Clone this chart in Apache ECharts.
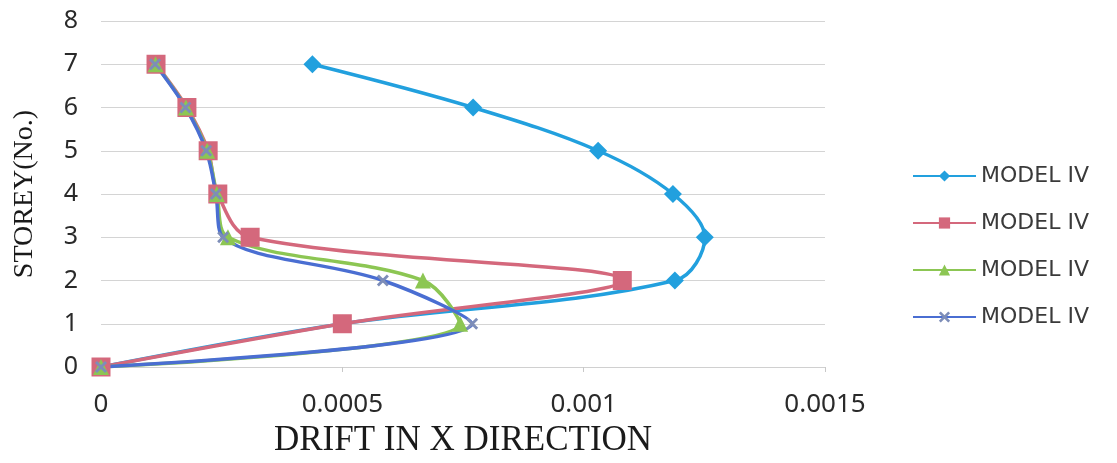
<!DOCTYPE html>
<html>
<head>
<meta charset="utf-8">
<script src="https://cdn.jsdelivr.net/npm/echarts@6/dist/echarts.min.js"></script>
<style>
  html, body { margin: 0; padding: 0; background: #ffffff; }
  #chart { width: 1117px; height: 463px; }
</style>
</head>
<body>
<div id="chart"></div>
<script>
// Storey numbers (vertical axis) and inter-storey drift in X for each run
const storeys = [0, 1, 2, 3, 4, 5, 6, 7];
const driftRun1 = [0, 0.00050, 0.001189, 0.001251, 0.001185, 0.00103, 0.000771, 0.000438];
const driftRun2 = [0, 0.00050, 0.00108, 0.000309, 0.000242, 0.000222, 0.000178, 0.000114];
const driftRun3 = [0, 0.000744, 0.000667, 0.000263, 0.00024, 0.00022, 0.000176, 0.000113];
const driftRun4 = [0, 0.000769, 0.000584, 0.000253, 0.000238, 0.000218, 0.000175, 0.000112];
const legendLabels = ['MODEL IV', 'MODEL IV', 'MODEL IV', 'MODEL IV'];
const seriesKeys = ['run1', 'run2', 'run3', 'run4'];
const xTickValues = [0, 0.0005, 0.001, 0.0015];
const yTickValues = [0, 1, 2, 3, 4, 5, 6, 7, 8];

// thin "x" marker outline
const crossPath = 'path://M0,2L2,0L6,4L10,0L12,2L8,6L12,10L10,12L6,8L2,12L0,10L4,6Z';

function lineSeries(key, drift, color, symbol, size, markerColor) {
  return {
    name: key,
    type: 'line',
    smooth: 0.35,
    data: storeys.map((s, i) => [drift[i], s]),
    symbol: symbol,
    symbolSize: size,
    showSymbol: true,
    lineStyle: { color: color, width: 3.5 },
    itemStyle: { color: markerColor || color },
    emphasis: { disabled: true },
    animation: false
  };
}

const chart = echarts.init(document.getElementById('chart'), null, { renderer: 'canvas' });
chart.setOption({
  backgroundColor: '#ffffff',
  animation: false,
  grid: { left: 101, right: 292, top: 21, bottom: 96, containLabel: false },
  xAxis: {
    type: 'value',
    min: xTickValues[0],
    max: xTickValues[xTickValues.length - 1],
    interval: xTickValues[1] - xTickValues[0],
    name: 'DRIFT IN X DIRECTION',
    nameLocation: 'middle',
    nameGap: 55,
    nameTextStyle: { fontFamily: 'Liberation Serif', fontSize: 35, color: '#1a1a1a' },
    axisLine: { show: true, lineStyle: { color: '#d0d0d0', width: 1 } },
    axisTick: { show: true, length: 5, lineStyle: { color: '#c8c8c8' } },
    axisLabel: { margin: 25, fontFamily: 'Noto Sans', fontSize: 26, color: '#2a2a2a' },
    splitLine: { show: false }
  },
  yAxis: {
    type: 'value',
    min: yTickValues[0],
    max: yTickValues[yTickValues.length - 1],
    interval: 1,
    name: 'STOREY(No.)',
    nameLocation: 'middle',
    nameRotate: 90,
    nameGap: 62,
    nameTextStyle: { fontFamily: 'Liberation Serif', fontSize: 28, color: '#1a1a1a' },
    axisLine: { show: false },
    axisTick: { show: false },
    axisLabel: { margin: 23, fontFamily: 'Noto Sans', fontSize: 25, color: '#2a2a2a' },
    splitLine: { show: true, lineStyle: { color: '#d4d4d4', width: 1 } }
  },
  legend: {
    orient: 'vertical',
    left: 907,
    top: 160,
    itemWidth: 63,
    itemHeight: 14,
    itemGap: 25,
    data: seriesKeys,
    formatter: function (name) { return legendLabels[seriesKeys.indexOf(name)]; },
    textStyle: { fontFamily: 'DejaVu Sans', fontSize: 22, color: '#3a3a3a' }
  },
  series: [
    lineSeries(seriesKeys[0], driftRun1, '#22a0de', 'diamond', 18),
    lineSeries(seriesKeys[1], driftRun2, '#d4687c', 'rect', 19),
    lineSeries(seriesKeys[2], driftRun3, '#8cc653', 'triangle', 16),
    lineSeries(seriesKeys[3], driftRun4, '#4a6ed2', crossPath, 12, '#7d8db8')
  ]
});
</script>
</body>
</html>
